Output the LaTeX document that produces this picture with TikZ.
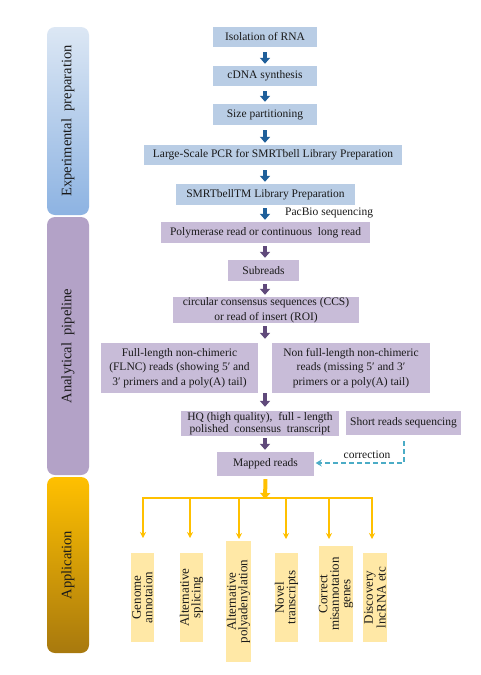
\documentclass[tikz,border=0pt]{standalone}
\usepackage{fontspec}
\setmainfont{Liberation Serif}
\usetikzlibrary{arrows.meta,calc}
\definecolor{boxblue}{HTML}{B9CDE5}
\definecolor{boxpurple}{HTML}{C8BCD8}
\definecolor{boxyellow}{HTML}{FFE8A6}
\definecolor{arrblue}{HTML}{1F5F9A}
\definecolor{arrpurple}{HTML}{604A7B}
\definecolor{gold}{HTML}{FFC000}
\definecolor{corr}{HTML}{4BACC6}
\definecolor{exptop}{HTML}{DCE7F4}
\definecolor{expbot}{HTML}{8DB3E2}
\definecolor{anapurple}{HTML}{B3A2C7}
\definecolor{appbot}{HTML}{A8790E}
\definecolor{txt}{HTML}{1A1A1A}
\tikzset{
  phase/.style={rounded corners=8pt, minimum width=42pt, inner sep=0pt},
  phasetext/.style={rotate=90, font=\fontsize{14.5}{16}\selectfont, text=txt},
  bbox/.style={fill=boxblue, inner sep=0pt, font=\fontsize{11.5}{13}\selectfont, text=txt},
  pbox/.style={fill=boxpurple, inner sep=0pt, align=center, font=\fontsize{11.5}{14.5}\selectfont, text=txt},
  ybox/.style={fill=boxyellow, rotate=90, inner sep=0pt, align=center, font=\fontsize{13}{11.5}\selectfont, text=txt},
  barrow/.style={draw=arrblue, line width=4pt, -{Triangle[width=10pt,length=6pt]}},
  parrow/.style={draw=arrpurple, line width=4pt, -{Triangle[width=10pt,length=6pt]}},
  garrow/.style={draw=gold, line width=4pt, -{Triangle[width=10pt,length=6pt]}},
  gline/.style={draw=gold, line width=1.6pt, -{Stealth[width=6pt,length=6pt]}},
}
\begin{document}
\begin{tikzpicture}[x=1pt,y=-1pt]
\useasboundingbox (0,0) rectangle (481,675);
\fill[white] (0,0) rectangle (481,675);

% phase bars
\node[phase, minimum height=188pt, top color=exptop, bottom color=expbot] (exp) at (68,121) {};
\node[phasetext] (expt) at (exp) {Experimental\ \ preparation};
\node[phase, minimum height=258pt, fill=anapurple] (ana) at (68,346) {};
\node[phasetext] (anat) at (ana) {Analytical\ \ pipeline};
\node[phase, minimum height=176pt, top color=gold, bottom color=appbot] (app) at (68,565) {};
\node[phasetext] (appt) at (app) {Application};

% blue boxes
\node[bbox, minimum width=104pt, minimum height=20pt] (iso) at (265,37) {Isolation\ of RNA};
\node[bbox, minimum width=104pt, minimum height=20pt] (cdna) at (265,76) {cDNA synthesis};
\node[bbox, minimum width=104pt, minimum height=21pt] (size) at (265,114.5) {Size partitioning};
\node[bbox, minimum width=258pt, minimum height=20pt] (pcr) at (273,155) {Large-Scale PCR for SMRTbell Library Preparation};
\node[bbox, minimum width=179pt, minimum height=21pt] (smrt) at (265.5,194.5) {SMRTbellTM Library Preparation};
\node[anchor=west, font=\fontsize{11.5}{13}\selectfont, text=txt, inner sep=0pt] (pac) at (285,213) {PacBio sequencing};

% purple boxes
\node[pbox, minimum width=209pt, minimum height=21pt] (poly) at (265.5,232.5) {Polymerase read or continuous\ \ long read};
\node[pbox, minimum width=71pt, minimum height=21pt] (sub) at (263.5,270.5) {Subreads};
\node[pbox, minimum width=186pt, minimum height=26pt] (ccs) at (266,310) {circular consensus sequences (CCS)\\or read of insert (ROI)};
\node[pbox, minimum width=157pt, minimum height=50pt] (flnc) at (179.5,368) {Full-length non-chimeric\\(FLNC) reads (showing 5′ and\\3′ primers and a poly(A) tail)};
\node[pbox, minimum width=158pt, minimum height=50pt] (nonfl) at (351,368) {Non full-length non-chimeric\\reads (missing 5′ and 3′\\primers or a poly(A) tail)};
\node[pbox, minimum width=158pt, minimum height=25pt, font=\fontsize{11.5}{12}\selectfont] (hq) at (260,423.5) {HQ (high quality),\ \ full - length\\polished\ \ consensus\ \ transcript};
\node[pbox, minimum width=115pt, minimum height=24pt] (short) at (403.5,423) {Short reads sequencing};
\node[pbox, minimum width=97pt, minimum height=24pt] (mapped) at (265.5,464) {Mapped reads};

% block arrows
\draw[barrow] ([yshift=-5pt]iso.south) -- ([yshift=2pt]cdna.north);
\draw[barrow] ([yshift=-5pt]cdna.south) -- ([yshift=2pt]size.north);
\draw[barrow] ([yshift=-5pt]size.south) -- ([yshift=2pt]pcr.north -| size.south);
\draw[barrow] ([yshift=-5pt]pcr.south -| size.south) -- ([yshift=2pt]smrt.north -| size.south);
\draw[barrow] ([yshift=-3pt]smrt.south -| size.south) -- ([yshift=2pt]poly.north -| size.south);
\draw[parrow] ([yshift=-3pt]poly.south -| size.south) -- ([yshift=2pt]sub.north -| size.south);
\draw[parrow] ([yshift=-3pt]sub.south -| size.south) -- ([yshift=2pt]ccs.north -| size.south);
\draw[parrow] ([yshift=-3pt]ccs.south -| size.south) -- ([yshift=4pt]flnc.north -| size.south);
\draw[parrow] (flnc.south -| size.south) -- ([yshift=4pt]hq.north -| size.south);
\draw[parrow] ([yshift=-2pt]hq.south -| size.south) -- ([yshift=2pt]mapped.north -| size.south);

% correction
\coordinate (cturn) at (404,463);
\draw[corr, line width=1.5pt, dash pattern=on 5pt off 3pt, -{Stealth[width=7pt,length=6pt]}]
  ([yshift=-6pt]short.south -| cturn) -- (cturn) -- ([xshift=1.5pt]mapped.east |- cturn);
\node[font=\fontsize{11.5}{13}\selectfont, text=txt, inner sep=0pt] (corrl) at (367,455) {correction};

% application boxes
\node[ybox, minimum width=89pt, minimum height=23pt] (ga) at (142.5,597.5) {Genome\\annotaion};
\node[ybox, minimum width=89pt, minimum height=23pt] (as) at (191.5,597.5) {Alternative\\splicing};
\node[ybox, minimum width=121pt, minimum height=25pt] (ap) at (238.5,601.5) {Alternative\\polyadenylation};
\node[ybox, minimum width=89pt, minimum height=23pt] (nt) at (286.5,597.5) {Novel\\transcripts};
\node[ybox, minimum width=96pt, minimum height=34pt] (cm) at (336,594) {Correct\\misannotation\\genes};
\node[ybox, minimum width=89pt, minimum height=24pt] (dl) at (375,597.5) {Discovery\\lncRNA etc};

% application arrows
\coordinate (hub) at (265,498);
\coordinate (e1) at (143,538);
\coordinate (e2) at (190,538);
\coordinate (e3) at (239,539);
\coordinate (e4) at (286,539);
\coordinate (e5) at (329,539);
\coordinate (e6) at (372,539);
\draw[garrow] ([yshift=-3pt]mapped.south) -- ([yshift=-1pt]hub);
\foreach \e in {e1,e2,e3,e4,e5,e6}{
  \draw[gline] (hub) -| (\e);
}
\end{tikzpicture}
\end{document}
